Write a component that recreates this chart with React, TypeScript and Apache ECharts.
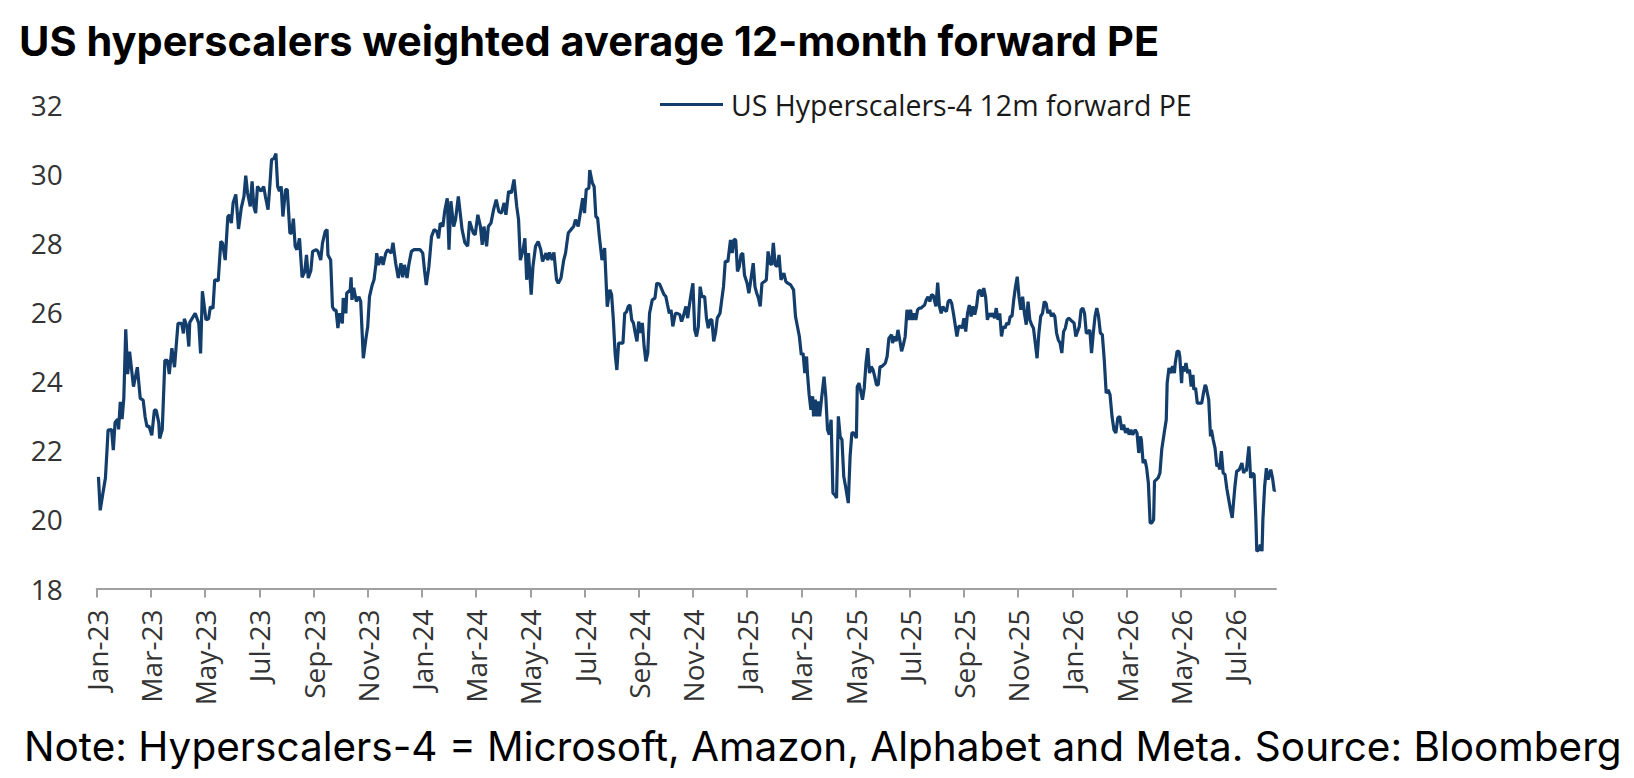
import React, { useEffect, useRef } from "react";
import * as echarts from "echarts";

// day offsets from 1 Jan 2023 and the matching 12m forward PE readings
const startYear = 2023;
const tradeDays = [
	2, 4, 7, 10, 12, 13, 17, 19, 21, 24, 25, 27, 29, 31, 33, 35, 37, 41, 45, 48, 51, 53, 55, 57, 60, 63, 65, 68, 69, 72,
	75, 78, 80, 83, 86, 90, 94, 96, 97, 100, 102, 103, 109, 113, 115, 117, 121, 124, 126, 129, 131, 135, 138, 140, 143,
	146, 148, 150, 152, 155, 158, 161, 164, 166, 168, 171, 173, 175, 177, 179, 183, 186, 188, 191, 193, 195, 198, 200,
	202, 204, 206, 208, 211, 213, 216, 218, 220, 222, 224, 227, 230, 233, 235, 237, 240, 242, 246, 248, 251, 253, 256,
	258, 259, 262, 264, 266, 268, 270, 272, 275, 276, 279, 280, 284, 285, 286, 288, 291, 294, 296, 299, 302, 304, 306,
	309, 311, 313, 314, 316, 319, 321, 324, 326, 328, 330, 332, 335, 338, 341, 343, 345, 348, 350, 353, 356, 360, 363,
	366, 368, 370, 373, 376, 379, 382, 384, 386, 389, 391, 394, 396, 398, 401, 403, 406, 408, 410, 413, 416, 418, 422,
	424, 427, 430, 432, 434, 437, 439, 442, 445, 448, 451, 454, 457, 459, 462, 465, 468, 471, 473, 475, 478, 480, 482,
	484, 487, 489, 492, 495, 498, 500, 504, 506, 508, 511, 513, 516, 518, 521, 524, 526, 529, 532, 535, 537, 540, 543,
	545, 547, 549, 552, 553, 556, 558, 560, 562, 564, 567, 570, 573, 576, 578, 580, 582, 584, 586,
	591, 593, 595, 597, 599, 601, 603, 605, 607, 609, 611, 613, 615, 617, 619, 621, 624, 627, 629, 632, 634, 637, 639,
	641, 643, 645, 647, 650, 652, 655, 657, 659, 662, 664, 666, 668, 670, 672, 674, 676, 678, 680, 683, 685, 687, 689,
	691, 693, 695, 697, 700, 702, 704, 706, 709, 712, 714, 716, 718, 720, 722, 724, 726, 728, 731, 733, 735, 738, 740,
	742, 744, 746, 748, 751, 753, 755, 757, 759, 761, 763, 765, 767, 769, 772, 774, 776, 779, 782, 784, 786, 788, 790,
	792, 794, 796, 797, 799, 801, 803, 804, 806, 808, 809, 811, 813, 816, 818, 820, 822, 824, 826, 828, 830, 832, 834,
	836, 838, 840, 843, 845, 847, 849, 852, 853, 855, 857, 859, 861, 863, 865, 867, 869, 871, 873, 875, 877, 879, 881,
	883, 885, 887, 889, 892, 893, 895, 897, 899, 901, 903, 905, 907, 909, 911, 913, 915, 917, 919, 921, 923, 925, 927,
	929, 931, 933, 935, 937, 939, 942, 944, 946, 948, 950, 952, 954, 956, 958, 960, 962, 964, 966, 968, 970, 972, 974,
	976, 978, 980, 982, 984, 986, 988, 990, 992, 994, 996, 998, 1000, 1002, 1004, 1006, 1008, 1010, 1012, 1014, 1016,
	1018, 1020, 1022, 1024, 1026, 1028, 1030, 1032, 1034, 1036, 1038, 1040, 1042, 1044, 1046, 1048, 1050, 1052, 1054,
	1056, 1058, 1060, 1062, 1064, 1066, 1068, 1070, 1072, 1074, 1076, 1078, 1080, 1082, 1084, 1086, 1088, 1090, 1092,
	1094, 1096, 1098, 1100, 1102, 1104, 1106, 1108, 1110, 1112, 1114, 1116, 1118, 1120, 1122, 1124, 1126, 1128, 1130,
	1132, 1134, 1136, 1138, 1140, 1142, 1144,
	1146, 1148, 1150, 1152, 1154, 1156, 1158, 1160, 1162, 1165, 1167, 1169, 1171, 1172, 1174, 1176, 1178, 1180, 1182,
	1184, 1186, 1187, 1189, 1191, 1193, 1195, 1198, 1200, 1201, 1203, 1205, 1207, 1209, 1210, 1212, 1214, 1215, 1217,
	1218, 1220, 1222, 1224, 1226, 1228, 1230, 1231, 1233, 1235, 1237, 1240, 1242, 1244, 1245, 1248, 1250, 1251, 1253,
	1255, 1257, 1259, 1260, 1262, 1264, 1266, 1268, 1270, 1272, 1274, 1277, 1279, 1282, 1285, 1287, 1289, 1290, 1293,
	1295, 1297, 1299, 1301, 1302, 1305, 1306, 1308, 1309, 1311, 1313, 1315, 1317, 1318, 1320, 1322, 1323,
];

const forwardPE = [
	21.23, 20.26, 20.74, 21.2, 22.1, 22.58, 22.6, 22.0, 22.8, 22.9, 22.6, 23.4, 22.9, 23.5, 25.5, 24.2, 24.85, 23.84, 24.4,
	23.5, 23.45, 22.97, 22.68, 22.7, 22.43, 23.16, 23.16, 22.8, 22.34, 22.6, 24.6, 24.6, 24.2, 24.95, 24.4, 25.67, 25.67,
	25.38, 25.8, 25.57, 25.0, 25.7, 25.96, 25.67, 24.8, 26.6, 25.77, 25.8, 26.15, 26.1, 26.93, 26.9, 28.04, 27.99, 27.5,
	28.76, 28.8, 28.57, 29.15, 29.4, 28.4, 29.0, 29.34, 29.94, 29.44, 29.05, 29.78, 29.05, 28.86, 29.63, 29.49, 29.63,
	29.34, 28.96, 29.63, 30.4, 30.45, 30.58, 29.63, 29.49, 29.63, 28.76, 29.54, 29.54, 28.28, 28.28, 28.7, 27.9, 27.8,
	28.13, 27.0, 27.17, 27.65, 26.98, 27.2, 27.75, 27.8, 27.75, 27.5, 28.0, 28.33, 28.38, 27.65, 27.5, 26.15, 26.05,
	26.05, 25.53, 25.96, 25.67, 26.4, 25.96, 26.54, 26.64, 27.0, 26.35, 26.7, 26.3, 26.44, 26.3, 24.66, 25.24, 25.57,
	26.44, 26.78, 26.93, 27.36, 27.7, 27.36, 27.6, 27.36, 27.7, 27.8, 27.75, 27.7, 28.0, 27.41, 26.98, 27.41, 27.0, 27.36,
	26.98, 27.36, 27.75, 27.8, 27.8, 27.8, 27.7, 27.2, 26.78, 27.31, 28.18, 28.38, 28.33, 28.13, 28.57, 28.47, 28.9,
	29.29, 27.8, 29.2, 28.47, 28.67, 29.34, 28.86, 28.38, 28.0, 27.9, 28.62, 28.28, 28.23, 28.81, 28.47, 27.94, 28.47,
	27.9, 28.47, 28.57, 28.96, 29.25, 28.9, 28.86, 29.15, 28.81, 29.49, 29.44, 29.83, 29.05, 28.67, 27.5, 27.8, 28.13,
	26.93, 27.7, 26.5, 27.31, 27.9, 28.04, 27.8, 27.46, 27.7, 27.5, 27.72, 27.5, 27.72, 26.93, 26.83, 26.98, 27.5, 27.7,
	28.28, 28.38, 28.47, 28.67, 28.47, 28.96, 29.29, 28.86, 29.54, 29.58, 30.1, 29.73, 29.63, 28.76, 28.71, 28.18, 27.5,
	27.85, 26.15, 26.64, 26.5, 25.77, 24.8, 24.32, 25.1,
	25.1, 25.96, 26.0, 26.16, 26.2, 25.77, 25.68, 25.39, 25.15, 25.72, 25.39, 25.68, 25.0, 24.57, 24.81, 25.96, 26.35,
	26.4, 26.83, 26.81, 26.69, 26.5, 26.45, 26.2, 25.96, 26.06, 25.58, 25.96, 25.96, 25.92, 25.72, 25.87, 26.16, 25.82,
	26.2, 26.54, 26.83, 25.48, 25.29, 25.58, 26.73, 26.44, 26.44, 25.82, 25.53, 25.77, 25.77, 25.15, 25.39, 25.82, 25.96,
	26.35, 26.73, 27.46, 27.46, 28.08, 27.7, 28.1, 28.08, 27.17, 27.31, 27.65, 27.7, 27.07, 26.83, 26.54, 26.88, 27.41,
	26.73, 26.54, 26.4, 26.16, 26.83, 26.88, 26.93, 27.75, 27.41, 27.36, 28.0, 27.36, 27.31, 27.65, 26.93, 27.12, 26.88,
	26.83, 26.78, 26.64, 25.87, 25.58, 25.29, 24.76, 24.81, 24.23, 24.71, 24.23, 23.6, 23.17, 23.56, 22.98, 23.46, 22.98,
	23.41, 22.98, 23.46, 24.13, 23.56, 22.59, 22.45, 22.88, 20.76, 20.71, 20.62, 22.98, 22.4, 22.3, 21.24, 20.95, 20.47,
	21.82, 22.5, 22.5, 22.35, 23.84, 23.94, 23.7, 23.46, 23.8, 24.52, 24.95, 24.23, 24.42, 24.33, 24.13, 23.89, 23.89,
	24.42, 24.42, 24.47, 24.52, 24.71, 25.24, 25.34, 25.1, 25.29, 25.15, 25.48, 25.19, 24.86, 25.05, 25.29, 26.06, 25.77,
	26.06, 25.77, 25.96, 25.77, 26.06, 26.11, 26.11, 26.16, 26.2, 26.35, 26.44, 26.3, 26.5, 26.47, 26.16, 26.85, 26.16,
	25.96, 26.16, 26.06, 26.01, 26.3, 26.35, 26.25, 25.96, 25.63, 25.29, 25.58, 25.58, 25.53, 25.82, 25.43, 25.96, 26.2,
	25.87, 26.16, 25.92, 26.16, 26.59, 26.64, 26.44, 26.69, 26.44, 25.77, 25.96, 25.87, 25.96, 25.82, 26.11, 25.77,
	25.96, 25.29, 25.58, 25.53, 25.68, 25.63, 25.87, 25.87, 26.35, 26.73, 27.02, 26.44, 26.06, 26.44, 25.96, 25.63, 26.3,
	25.77, 25.63, 25.53, 25.1, 24.66, 25.39, 25.87, 25.96, 26.3, 26.25, 25.96, 26.06, 25.87, 25.96, 25.87, 25.39, 25.19,
	25.1, 24.81, 25.43, 25.53, 25.77, 25.82, 25.77, 25.72, 25.68, 25.29, 25.43, 25.58, 26.06, 26.11, 25.96, 25.39, 25.39,
	25.48, 24.81, 25.39, 25.87, 26.11, 25.87, 25.39, 25.34, 24.62, 23.65, 23.75, 23.6, 22.98, 22.59, 22.5,
	22.93, 22.98, 22.59, 22.74, 22.5, 22.64, 22.45, 22.59, 22.45, 22.59, 22.5, 21.92, 22.4, 22.3, 21.63, 21.73, 21.49,
	21.05, 19.9, 19.9, 19.99, 21.1, 21.15, 21.2, 21.34, 22.02, 22.55, 22.88, 23.94, 24.38, 24.23, 24.43, 24.23, 24.52,
	24.86, 24.86, 24.71, 23.94, 24.43, 24.28, 24.52, 24.23, 24.33, 23.84, 24.18, 23.75, 23.8, 23.36, 23.36, 23.36, 23.65,
	23.89, 23.84, 23.46, 22.4, 22.59, 22.3, 22.06, 21.53, 21.6, 21.44, 21.97, 21.34, 21.3, 20.9, 20.6, 20.3, 20.04,
	20.95, 21.39, 21.44, 21.63, 21.34, 21.44, 21.39, 22.11, 21.2, 21.34, 21.29, 19.99, 19.08, 19.13, 19.27, 19.08, 19.99,
	20.95, 21.48, 21.15, 21.34, 21.44, 21.2, 20.82, 20.85,
];

const monthNames = ["Jan", "Feb", "Mar", "Apr", "May", "Jun", "Jul", "Aug", "Sep", "Oct", "Nov", "Dec"];
const tickMonths = [0, 2, 4, 6, 8, 10, 12, 14, 16, 18, 20, 22, 24, 26, 28, 30, 32, 34, 36, 38, 40, 42];
const axisEndDay = 1324;

// months since Jan 2023, with the day as a fraction of its month
const monthPos = (day: number) => {
	const d = new Date(Date.UTC(startYear, 0, 1 + day));
	const y = d.getUTCFullYear();
	const m = d.getUTCMonth();
	const dim = new Date(Date.UTC(y, m + 1, 0)).getUTCDate();
	return (y - startYear) * 12 + m + (d.getUTCDate() - 1) / dim;
};

const monthLabel = (v: number) => {
	const i = Math.round(v);
	return monthNames[i % 12] + "-" + String((startYear % 100) + Math.floor(i / 12));
};

const LINE = "#133d6b";

export default function App() {
	const ref = useRef<HTMLDivElement>(null);

	useEffect(() => {
		document.body.style.margin = "0";
		const chart = echarts.init(ref.current, null, { renderer: "svg" });
		chart.setOption({
			animation: false,
			backgroundColor: "#ffffff",
			grid: { left: 96.7, right: 358, top: 104.5, bottom: 189.5, containLabel: false },
			legend: {
				left: 655,
				top: 85,
				icon: "rect",
				itemWidth: 63,
				itemHeight: 3,
				itemGap: 8,
				textStyle: { fontFamily: "Open Sans", fontSize: 28.5, color: "#1a1a1a", padding: [0, 0, 0, 3] },
				data: ["US Hyperscalers-4 12m forward PE"],
			},
			xAxis: {
				type: "value",
				min: 0,
				max: monthPos(axisEndDay),
				interval: 2,
				splitLine: { show: false },
				axisLine: { show: true, lineStyle: { color: "#a0a0a0", width: 2 } },
				axisTick: { show: true, length: 9, customValues: tickMonths, lineStyle: { color: "#a0a0a0", width: 2 } },
				axisLabel: {
					customValues: tickMonths,
					rotate: 90,
					margin: 21,
					formatter: monthLabel,
					fontFamily: "Open Sans",
					fontSize: 28,
					color: "#333333",
				},
			},
			yAxis: {
				type: "value",
				min: 18,
				max: 32,
				interval: 2,
				splitLine: { show: false },
				axisLine: { show: false },
				axisTick: { show: false },
				axisLabel: { margin: 34, fontFamily: "Open Sans", fontSize: 28, color: "#333333" },
			},
			series: [
				{
					name: "US Hyperscalers-4 12m forward PE",
					type: "line",
					symbol: "none",
					showSymbol: false,
					lineStyle: { color: LINE, width: 3.2 },
					itemStyle: { color: LINE },
					data: forwardPE.map((v, i) => [monthPos(tradeDays[i]), v]),
				},
			],
			graphic: [
				{
					type: "text",
					left: 19,
					top: 20,
					style: {
						text: "US hyperscalers weighted average 12-month forward PE",
						font: "bold 41.5px Inter, 'Noto Sans', sans-serif",
						fill: "#000000",
					},
				},
				{
					type: "text",
					left: 24,
					top: 726,
					style: {
						text: "Note: Hyperscalers-4 = Microsoft, Amazon, Alphabet and Meta. Source: Bloomberg",
						font: "40.5px Inter, 'Noto Sans', sans-serif",
						fill: "#000000",
					},
				},
			],
		});
		return () => chart.dispose();
	}, []);

	return <div ref={ref} style={{ width: 1634, height: 778 }} />;
}
